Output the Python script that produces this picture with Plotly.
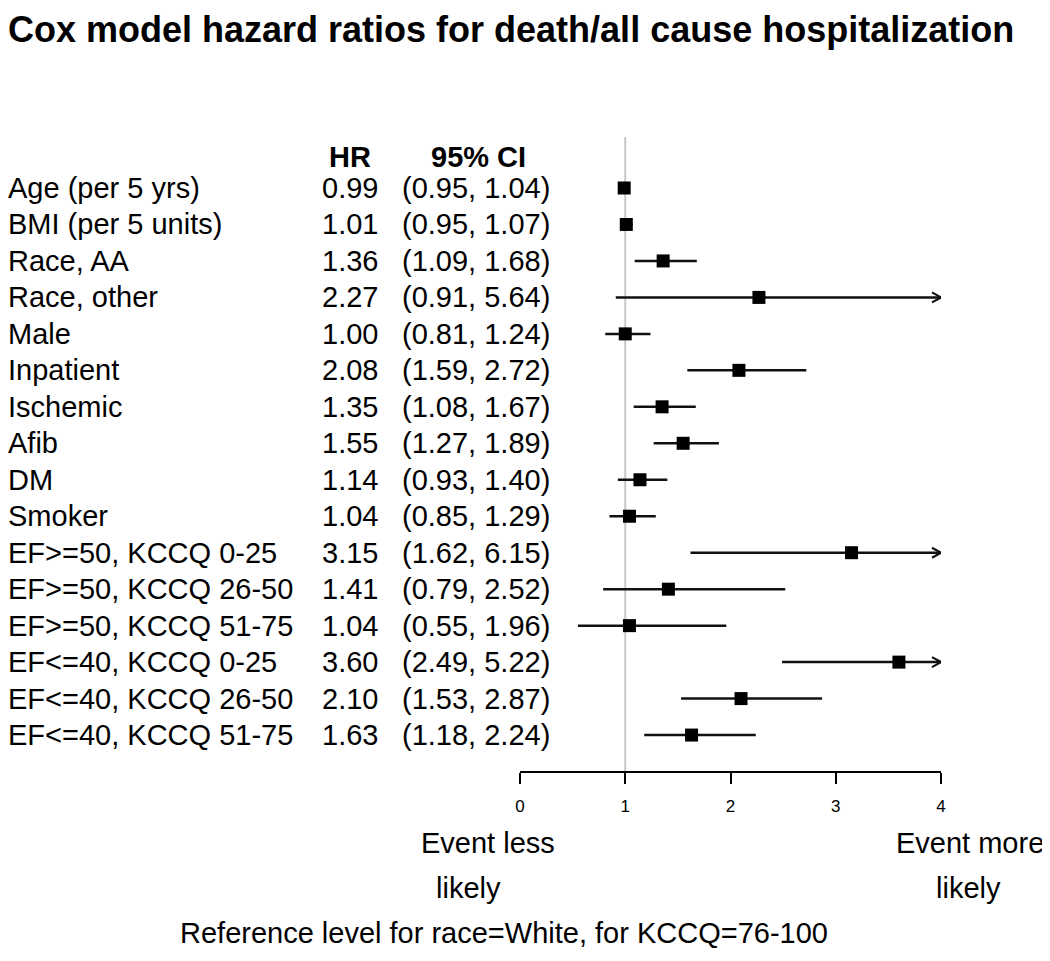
import plotly.graph_objects as go

# ---------------- data ----------------
labels = ["Age (per 5 yrs)", "BMI (per 5 units)", "Race, AA", "Race, other", "Male",
          "Inpatient", "Ischemic", "Afib", "DM", "Smoker",
          "EF>=50, KCCQ 0-25", "EF>=50, KCCQ 26-50", "EF>=50, KCCQ 51-75",
          "EF<=40, KCCQ 0-25", "EF<=40, KCCQ 26-50", "EF<=40, KCCQ 51-75"]
hr = [0.99, 1.01, 1.36, 2.27, 1.00, 2.08, 1.35, 1.55, 1.14, 1.04,
      3.15, 1.41, 1.04, 3.60, 2.10, 1.63]
ci_low = [0.95, 0.95, 1.09, 0.91, 0.81, 1.59, 1.08, 1.27, 0.93, 0.85,
          1.62, 0.79, 0.55, 2.49, 1.53, 1.18]
ci_high = [1.04, 1.07, 1.68, 5.64, 1.24, 2.72, 1.67, 1.89, 1.40, 1.29,
           6.15, 2.52, 1.96, 5.22, 2.87, 2.24]
tick_vals = [0, 1, 2, 3, 4]
tick_text = ["0", "1", "2", "3", "4"]
title = "Cox model hazard ratios for death/all cause hospitalization"
footnote = "Reference level for race=White, for KCCQ=76-100"

# ---------------- layout helpers ----------------
OFF = 8                      # default page body margin
W, H = 1040, 945             # figure size (fits the window with the margin)
FONT = "Liberation Sans, Arial, Helvetica, sans-serif"
XMIN, XMAX = 0, 4
X0_S, X1_S = 520, 941        # screen x of x=0 and x=4
ROW0_S, ROW_STEP = 188, 36.47
AXIS_S = 771                 # screen y of the x-axis line

def fx(s):   # screen x -> figure pixel x
    return s - OFF

def fy(s):   # screen y -> figure pixel y
    return s - OFF

def py(s):   # screen y -> paper y
    return 1 - fy(s) / H

def px_x(s):  # screen x -> paper x
    return fx(s) / W

def row_of_px(s):  # screen y -> row units
    return (s - ROW0_S) / ROW_STEP

n = len(labels)
rows = list(range(n))

fig = go.Figure()

# CI segments (clipped at axis max)
seg_x, seg_y = [], []
for i in rows:
    seg_x += [max(ci_low[i], XMIN), min(ci_high[i], XMAX), None]
    seg_y += [i, i, None]
fig.add_trace(go.Scatter(x=seg_x, y=seg_y, mode="lines",
                         line=dict(color="#111111", width=2.5),
                         hoverinfo="skip", showlegend=False))

# open arrowheads where CI exceeds the axis max
adx = 9 / ((X1_S - X0_S) / (XMAX - XMIN))
ady = 5 / ROW_STEP
ah_x, ah_y = [], []
for i in rows:
    if ci_high[i] > XMAX:
        ah_x += [XMAX - adx, XMAX, XMAX - adx, None]
        ah_y += [i - ady, i, i + ady, None]
fig.add_trace(go.Scatter(x=ah_x, y=ah_y, mode="lines",
                         line=dict(color="#111111", width=2.2),
                         hoverinfo="skip", showlegend=False))

# point estimates
fig.add_trace(go.Scatter(x=hr, y=rows, mode="markers",
                         marker=dict(symbol="square", size=13, color="black"),
                         cliponaxis=False, showlegend=False,
                         hovertemplate="%{x}<extra></extra>"))

# reference line at HR = 1
fig.add_shape(type="line", xref="x", yref="y", x0=1, x1=1,
              y0=row_of_px(137), y1=row_of_px(AXIS_S),
              line=dict(color="#c8c8c8", width=2), layer="below")

def txt_font(size=29):
    return dict(family=FONT, size=size, color="black")

ann = []
ann.append(dict(text=f"<b>{title}</b>", xref="paper", yref="paper",
                x=px_x(8), y=py(29), xanchor="left", yanchor="middle",
                borderpad=0, borderwidth=0,
                showarrow=False, font=txt_font(36)))
ann.append(dict(text="<b>HR</b>", xref="paper", yref="y", x=px_x(350),
                y=row_of_px(157), xanchor="center", yanchor="middle",
                showarrow=False, font=txt_font()))
ann.append(dict(text="<b>95% CI</b>", xref="paper", yref="y", x=px_x(478),
                y=row_of_px(157), xanchor="center", yanchor="middle",
                showarrow=False, font=txt_font()))
for i in rows:
    ann.append(dict(text=labels[i], xref="paper", yref="y", x=px_x(8), y=i,
                    xanchor="left", yanchor="middle", showarrow=False,
                    borderpad=0, borderwidth=0, font=txt_font()))
    ann.append(dict(text=f"{hr[i]:.2f}", xref="paper", yref="y", x=px_x(350), y=i,
                    xanchor="center", yanchor="middle", showarrow=False,
                    font=txt_font()))
    ann.append(dict(text=f"({ci_low[i]:.2f}, {ci_high[i]:.2f})", xref="paper", yref="y",
                    x=px_x(476), y=i, xanchor="center", yanchor="middle",
                    showarrow=False, font=txt_font()))
for txt, xc, yc in [("Event less", 488, 843), ("likely", 468, 888),
                    ("Event more", 970, 843), ("likely", 968, 888),
                    (footnote, 504, 933)]:
    ann.append(dict(text=txt, xref="paper", yref="paper", x=px_x(xc), y=py(yc),
                    xanchor="center", yanchor="middle", showarrow=False,
                    font=txt_font()))

fig.update_layout(
    width=W, height=H,
    margin=dict(l=0, r=0, t=0, b=0),
    paper_bgcolor="white", plot_bgcolor="white",
    annotations=ann,
    showlegend=False,
    xaxis=dict(domain=[fx(X0_S) / W, fx(X1_S) / W], range=[XMIN, XMAX],
               tickmode="array", tickvals=tick_vals, ticktext=tick_text,
               showgrid=False, zeroline=False, showline=True,
               linecolor="black", linewidth=2, ticks="outside", ticklen=11,
               tickwidth=2, tickcolor="black", ticklabelstandoff=8,
               tickfont=dict(family=FONT, size=17, color="black"),
               automargin=False, fixedrange=True),
    yaxis=dict(domain=[1 - fy(AXIS_S) / H, 1],
               range=[row_of_px(AXIS_S), row_of_px(OFF)],
               visible=False, showgrid=False, zeroline=False,
               automargin=False, fixedrange=True),
)

fig.write_html("out.html")
